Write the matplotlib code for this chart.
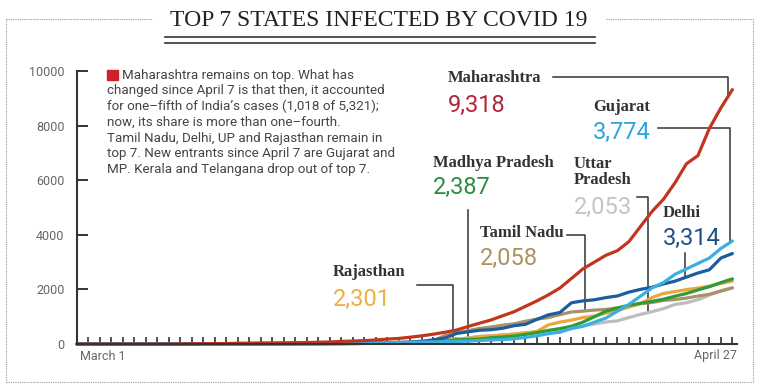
import numpy as np
import matplotlib.pyplot as plt
from matplotlib.lines import Line2D

# day 0 = March 1 ... day 57 = April 27
days = np.arange(58)

maharashtra = [0, 0, 0, 0, 0, 0, 0, 0, 0, 2, 5, 11, 14, 17, 26, 32, 39, 41, 45, 49,
               52, 64, 74, 97, 107, 124, 150, 180, 205, 250, 300, 360, 430, 510, 640, 760,
               880, 1030, 1180, 1380, 1580, 1800, 2050, 2400, 2750, 3000, 3250, 3420, 3750,
               4300, 4850, 5300, 5900, 6600, 6900, 7900, 8650, 9318]
gujarat = [0, 0, 0, 0, 0, 0, 0, 0, 0, 0, 0, 0, 0, 0, 0, 0, 0, 0, 0, 2,
           5, 7, 18, 30, 33, 38, 43, 45, 55, 58, 69, 74, 87, 95, 105, 128,
           144, 165, 186, 241, 300, 378, 432, 572, 650, 800, 950, 1200, 1450,
           1750, 2050, 2250, 2550, 2750, 2950, 3150, 3500, 3774]
delhi = [0, 0, 1, 1, 1, 1, 3, 3, 4, 4, 5, 6, 7, 7, 7, 7, 8, 10, 12, 17,
         26, 29, 30, 30, 31, 36, 39, 40, 49, 72, 97, 152, 219, 386, 445, 503,
         523, 576, 669, 720, 903, 1069, 1154, 1510, 1580, 1620, 1700, 1760, 1900,
         2000, 2080, 2200, 2300, 2450, 2600, 2720, 3150, 3314]
madhya_pradesh = [0, 0, 0, 0, 0, 0, 0, 0, 0, 0, 0, 0, 0, 0, 0, 0, 0, 0, 0, 0,
                  4, 4, 6, 7, 14, 20, 30, 33, 39, 47, 66, 99, 104, 154, 165, 180,
                  229, 256, 290, 350, 420, 500, 564, 650, 800, 1000, 1200, 1320, 1420,
                  1490, 1560, 1640, 1750, 1850, 1980, 2100, 2250, 2387]
rajasthan = [0, 0, 0, 1, 1, 1, 1, 1, 1, 1, 1, 2, 2, 3, 4, 4, 4, 4, 7, 17,
             17, 24, 28, 32, 36, 38, 41, 54, 57, 69, 93, 108, 133, 179, 200, 274,
             288, 328, 363, 413, 463, 700, 804, 873, 969, 1023, 1131, 1229, 1351,
             1478, 1700, 1850, 1920, 1990, 2050, 2120, 2220, 2301]
tamil_nadu = [0, 0, 0, 0, 0, 0, 0, 1, 1, 1, 1, 1, 1, 1, 1, 1, 1, 1, 2, 3,
              3, 6, 9, 15, 18, 26, 29, 40, 42, 50, 74, 124, 309, 411, 485, 571,
              621, 690, 738, 834, 911, 969, 1075, 1173, 1204, 1242, 1267, 1323, 1372,
              1477, 1520, 1596, 1629, 1683, 1755, 1821, 1937, 2058]
uttar_pradesh = [0, 0, 0, 1, 1, 1, 1, 1, 1, 1, 1, 9, 11, 12, 12, 13, 15, 16, 17, 23,
                 24, 27, 31, 33, 37, 41, 45, 55, 65, 75, 101, 113, 172, 174, 227, 278,
                 305, 332, 361, 410, 431, 452, 483, 558, 660, 735, 805, 849, 969,
                 1084, 1184, 1294, 1449, 1510, 1621, 1793, 1955, 2053]

y_ticks = [0, 2000, 4000, 6000, 8000, 10000]

W, H = 759, 387
NARROW = ['Roboto', 'DejaVu Sans']
SERIF = ['Liberation Serif', 'DejaVu Serif']

fig = plt.figure(figsize=(W / 100, H / 100), dpi=100)
ax = fig.add_axes([77 / W, 43 / H, 660 / W, 273 / H])

series = [
    (uttar_pradesh, '#bdbdbd'),
    (tamil_nadu, '#a99266'),
    (rajasthan, '#eaa83a'),
    (madhya_pradesh, '#2f9b3a'),
    (delhi, '#1c5d9e'),
    (gujarat, '#3ab0e2'),
    (maharashtra, '#c1361f'),
]
for vals, col in series:
    ax.plot(days, vals, color=col, lw=2.3, solid_capstyle='round', clip_on=False)

ax.set_xlim(0, 57.4)
ax.set_ylim(0, 10000)
ax.set_yticks(y_ticks)
ax.set_yticklabels([str(t) for t in y_ticks], fontsize=9, color='#666',
                   family=['Roboto', 'DejaVu Sans'])
ax.set_xticks(days[1:])
ax.set_xticklabels([])
ax.tick_params(axis='y', direction='in', length=8, width=1.4, color='#333', pad=9)
ax.tick_params(axis='x', direction='in', length=5, width=1.2, color='#333')
for s in ['top', 'right']:
    ax.spines[s].set_visible(False)
for s in ['left', 'bottom']:
    ax.spines[s].set_color('#333')
    ax.spines[s].set_linewidth(1.5)


def fxy(x, y):
    return x / W, 1 - y / H


fig.text(*fxy(80, 356), 'March 1', fontsize=9, color='#666', family=NARROW,
         ha='left', va='center')
fig.text(*fxy(737, 356), 'April 27', fontsize=9, color='#666', family=NARROW,
         ha='right', va='center')

# title and frame
fig.text(*fxy(379, 21), 'TOP 7 STATES INFECTED BY COVID 19', fontsize=17,
         color='#222', family=SERIF, ha='center', va='center')
for yy in (37, 43):
    fig.add_artist(Line2D([165 / W, 595 / W], [1 - yy / H] * 2, color='#333', lw=1.2))
dot = dict(color='#999', lw=0.8, linestyle=(0, (1, 1)))
fig.add_artist(Line2D([6 / W, 152 / W], [1 - 19 / H] * 2, **dot))
fig.add_artist(Line2D([606 / W, 753 / W], [1 - 19 / H] * 2, **dot))
fig.add_artist(Line2D([6 / W, 6 / W], [1 - 19 / H, 1 - 382 / H], **dot))
fig.add_artist(Line2D([753 / W, 753 / W], [1 - 19 / H, 1 - 382 / H], **dot))
fig.add_artist(Line2D([6 / W, 753 / W], [1 - 382 / H] * 2, **dot))

# note block
fig.patches.append(plt.Rectangle(fxy(107, 80), 11 / W, 10 / H, color='#d0202a',
                                 transform=fig.transFigure))
note = [
    (122, 'Maharashtra remains on top. What has'),
    (107, 'changed since April 7 is that then, it accounted'),
    (107, 'for one–fifth of India’s cases (1,018 of 5,321);'),
    (107, 'now, its share is more than one–fourth.'),
    (107, 'Tamil Nadu, Delhi, UP and Rajasthan remain in'),
    (107, 'top 7. New entrants since April 7 are Gujarat and'),
    (107, 'MP. Kerala and Telangana drop out of top 7.'),
]
for i, (x0, line) in enumerate(note):
    fig.text(*fxy(x0, 75 + i * 15.8), line, fontsize=9.6, color='#444', family=NARROW,
             ha='left', va='center')

# state labels
labels = [
    ('Maharashtra', '9,318', '#b3253b', 448, 78, 105),
    ('Gujarat', '3,774', '#2ea3dc', 593, 107, 132),
    ('Madhya Pradesh', '2,387', '#2a8f45', 433, 163, 187),
    ('Uttar\nPradesh', '2,053', '#c4c4c4', 574, 172, 207),
    ('Delhi', '3,314', '#1f4f86', 663, 213, 238),
    ('Tamil Nadu', '2,058', '#ab9260', 480, 233, 258),
    ('Rajasthan', '2,301', '#f0b040', 333, 272, 299),
]
for name, num, col, x0, yn, yv in labels:
    fig.text(*fxy(x0, yn), name, fontsize=12, fontweight='bold', color='#333',
             family=SERIF, ha='left', va='center', linespacing=1.0)
    fig.text(*fxy(x0, yv), num, fontsize=17, color=col, family=NARROW,
             ha='left', va='center')

# leader lines: (start x, y, corner x, series)
inv = ax.transData.inverted()


def px_to_data(x, y):
    return inv.transform((x, H - y))


leaders = [
    (553, 77, 728, maharashtra),
    (658, 128, 730, gujarat),
    (468, 210, 468, madhya_pradesh),
    (637, 197, 648, uttar_pradesh),
    (685, 253, 685, delhi),
    (567, 235, 585, tamil_nadu),
    (417, 285, 453, rajasthan),
]
for x0, y0, xc, vals in leaders:
    d0, v0 = px_to_data(x0, y0)
    dc, _ = px_to_data(xc, y0)
    v_end = np.interp(dc, days, vals)
    ax.plot([d0, dc, dc], [v0, v0, v_end], color='#333', lw=1.1, clip_on=False,
            zorder=1)

fig.savefig('out.png', dpi=100)
